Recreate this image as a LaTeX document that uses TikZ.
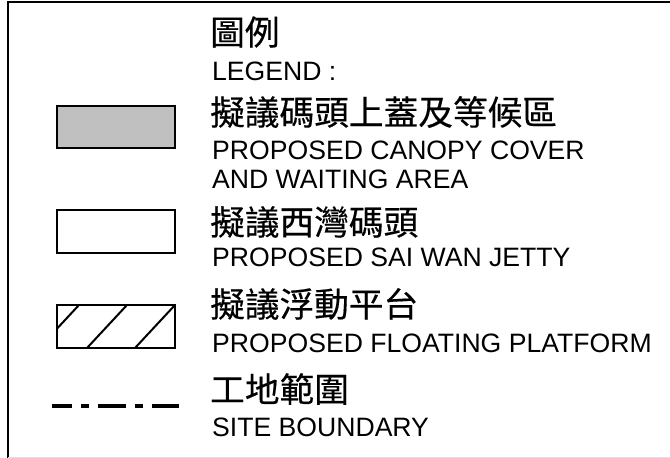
\documentclass[tikz,border=0pt]{standalone}
\usepackage{fontspec}
\setmainfont{Liberation Sans}
\newfontfamily\cjk{Noto Sans CJK TC}[FakeStretch=1.02,FakeBold=0.4]
\usetikzlibrary{patterns}

\begin{document}
\begin{tikzpicture}[x=1pt,y=-1pt,
	cn/.style={anchor=west,inner sep=0pt,font=\cjk\fontsize{34}{36}\selectfont},
	en/.style={anchor=base west,inner sep=0pt,font=\fontsize{26.6}{28}\selectfont},
	symbol/.style={line width=2.2pt}]
	\useasboundingbox (0,0) rectangle (670,458);
	\draw[line width=2pt] (8,458)--(8,2)--(670,2);
	\draw[gray!25, line width=0.8pt] (8,457.5)--(670,457.5);
	% symboles
	\draw[symbol, fill={rgb,255:red,192;green,192;blue,192}] (57,106) rectangle (175,148);
	\draw[symbol] (57,210) rectangle (175,253);
	\begin{scope}
		\clip (57,305) rectangle (175,348);
		\foreach \b in {39,87,135}
			\draw[line width=2pt] (\b,348)--(\b+40,305);
	\end{scope}
	\draw[symbol] (57,305) rectangle (175,348);
	\draw[line width=4pt, dash pattern=on 28pt off 9pt on 8pt off 9pt, dash phase=8pt] (52,406)--(179,406);
	% textes
	\node[cn] (legcn) at (210,32) {圖例};
	\node[en] (legen) at (212,80) {LEGEND :};
	\node[cn] (canopycn) at (210,112) {擬議碼頭上蓋及等候區};
	\node[en] (canopyen) at (212,159) {PROPOSED CANOPY COVER};
	\node[en] (canopyen2) at (212,188) {AND WAITING AREA};
	\node[cn] (jettycn) at (210,222) {擬議西灣碼頭};
	\node[en] (jettyen) at (212,266) {PROPOSED SAI WAN JETTY};
	\node[cn] (floatcn) at (210,304) {擬議浮動平台};
	\node[en] (floaten) at (212,352) {PROPOSED FLOATING PLATFORM};
	\node[cn] (sitecn) at (210,389) {工地範圍};
	\node[en] (siteen) at (212,436) {SITE BOUNDARY};
\end{tikzpicture}
\end{document}
